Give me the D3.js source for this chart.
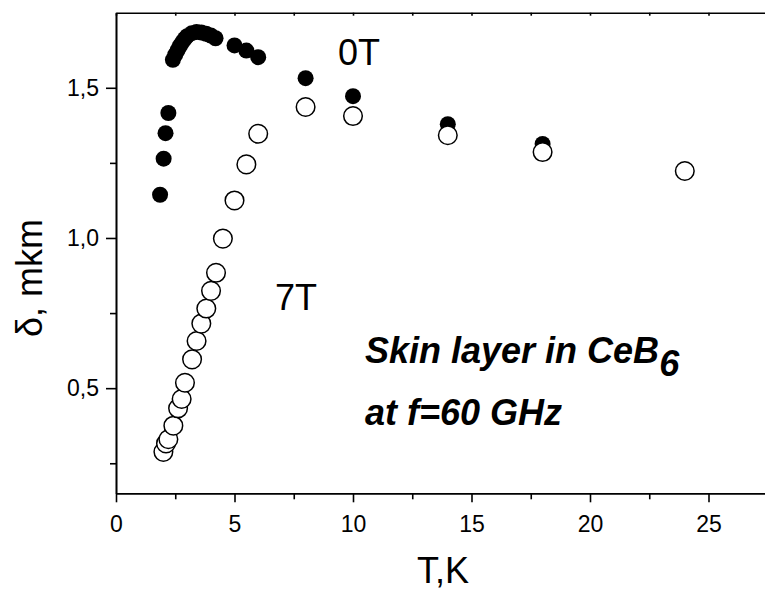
<html>
  <head>
    <script src="https://d3js.org/d3.v7.min.js"></script>
    <meta charset="UTF-8" />
    <style>
      body { margin: 0; background: #fff; }
      text { font-family: "Liberation Sans", Arial, sans-serif; }
    </style>
  </head>
  <body>
    <div id="chart"></div>
    <script>
      // 0T, filled dots
      var tempZero = [1.86, 2.01, 2.09, 2.21, 2.4, 2.5, 2.6, 2.7, 2.8, 2.9, 3.0, 3.2, 3.4, 3.6, 3.8, 4.0, 4.2, 5.0, 5.5, 6.0, 8.0, 10.0, 14.0, 18.0, 24.0]
      var deltaZero = [1.144, 1.264, 1.349, 1.416, 1.593, 1.61, 1.625, 1.64, 1.652, 1.663, 1.672, 1.682, 1.686, 1.684, 1.68, 1.674, 1.665, 1.641, 1.624, 1.602, 1.532, 1.472, 1.379, 1.313, 1.225]

      // 7T, open dots
      var tempSeven = [2.0, 2.11, 2.21, 2.42, 2.62, 2.77, 2.91, 3.21, 3.4, 3.6, 3.81, 4.01, 4.22, 4.51, 5.0, 5.5, 6.0, 8.0, 10.0, 14.0, 18.0, 24.0]
      var deltaSeven = [0.288, 0.316, 0.33, 0.375, 0.433, 0.464, 0.518, 0.596, 0.657, 0.715, 0.765, 0.824, 0.884, 0.998, 1.125, 1.245, 1.347, 1.436, 1.406, 1.342, 1.286, 1.223]

      var xTicks = [0, 5, 10, 15, 20, 25]
      var xMinor = [2.5, 7.5, 12.5, 17.5, 22.5]
      var yTicks = [0.5, 1.0, 1.5]
      var yMinor = [0.25, 0.75, 1.25]

      var margin = {top: 12.7, left: 116}
      var width = 651.75
      var height = 480.6

      var svg = d3.select("#chart")
        .append("svg")
        .attr("width", 765)
        .attr("height", 592)
        .append("g")
        .attr("transform", "translate(" + margin.left + "," + margin.top + ")")

      var x = d3.scaleLinear().domain([0, 27.5]).range([0, width])
      var y = d3.scaleLinear().domain([0.15, 1.75]).range([height, 0])

      var fmt = function(d) { return d3.format(".1f")(d).replace(".", ",") }

      // bottom axis
      var bottom = svg.append("g")
        .attr("transform", "translate(0," + height + ")")
        .call(d3.axisBottom(x).tickValues(xTicks).tickSize(9).tickPadding(13).tickSizeOuter(0))
      bottom.append("g")
        .call(d3.axisBottom(x).tickValues(xMinor).tickSize(6).tickFormat("").tickSizeOuter(0))

      // left axis
      var left = svg.append("g")
        .call(d3.axisLeft(y).tickValues(yTicks).tickFormat(fmt).tickSize(10).tickPadding(7).tickSizeOuter(0))
      left.append("g")
        .call(d3.axisLeft(y).tickValues(yMinor).tickSize(6).tickFormat("").tickSizeOuter(0))

      // top axis, small inward ticks
      svg.append("g")
        .call(d3.axisTop(x).tickValues(xTicks.concat(xMinor)).tickSize(-3).tickFormat("").tickSizeOuter(0))

      svg.selectAll(".domain, .tick line")
        .attr("stroke", "#000")
        .attr("stroke-width", 1.6)
      svg.selectAll(".tick text")
        .attr("fill", "#000")
        .style("font-size", "23px")

      // 0T points
      svg.selectAll(".zero")
        .data(tempZero)
        .enter().append("circle")
        .attr("class", "zero")
        .attr("cx", function(d) { return x(d) })
        .attr("cy", function(d, i) { return y(deltaZero[i]) })
        .attr("r", 8)
        .attr("fill", "#000")

      // 7T points on top
      svg.selectAll(".seven")
        .data(tempSeven)
        .enter().append("circle")
        .attr("class", "seven")
        .attr("cx", function(d) { return x(d) })
        .attr("cy", function(d, i) { return y(deltaSeven[i]) })
        .attr("r", 9.3)
        .attr("fill", "#fff")
        .attr("stroke", "#000")
        .attr("stroke-width", 1.5)

      // axis titles
      svg.append("text")
        .attr("x", 443 - margin.left)
        .attr("y", 583 - margin.top)
        .attr("text-anchor", "middle")
        .style("font-size", "36px")
        .text("T,K")

      svg.append("text")
        .attr("transform", "translate(" + (42 - margin.left) + "," + (278 - margin.top) + ") rotate(-90)")
        .attr("text-anchor", "middle")
        .style("font-size", "36px")
        .text("δ, mkm")

      // labels
      svg.append("text")
        .attr("x", 338 - margin.left)
        .attr("y", 65 - margin.top)
        .style("font-size", "36px")
        .text("0T")

      svg.append("text")
        .attr("x", 275 - margin.left)
        .attr("y", 310 - margin.top)
        .style("font-size", "36px")
        .text("7T")

      var note = svg.append("text")
        .attr("x", 365 - margin.left)
        .attr("y", 363 - margin.top)
        .style("font-size", "36px")
        .style("font-weight", "bold")
        .style("font-style", "italic")
      note.append("tspan").text("Skin layer in CeB")
      note.append("tspan").attr("dy", 13).text("6")

      svg.append("text")
        .attr("x", 365 - margin.left)
        .attr("y", 425 - margin.top)
        .style("font-size", "36px")
        .style("font-weight", "bold")
        .style("font-style", "italic")
        .text("at f=60 GHz")
    </script>
  </body>
</html>
